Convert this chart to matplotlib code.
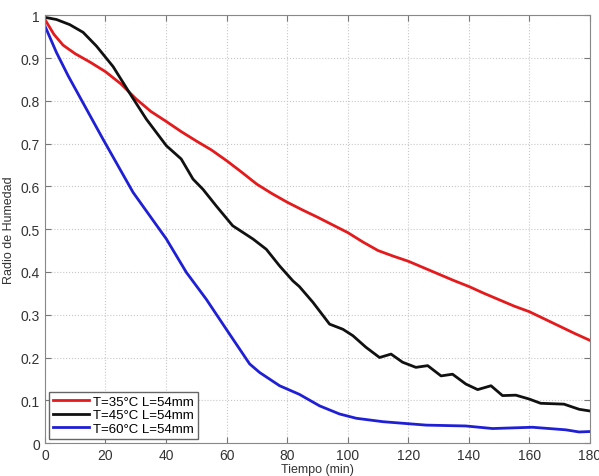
import numpy as np
import matplotlib
matplotlib.use("Agg")
import matplotlib.pyplot as plt

plt.rcParams['font.family'] = ['Liberation Sans', 'DejaVu Sans']

# Red: T=35°C
t35 = [0, 3, 6, 10, 15, 20, 25, 30, 35, 40, 45, 50, 55, 60, 65, 70, 75, 80, 85, 90,
       95, 100, 105, 110, 115, 120, 125, 130, 135, 140, 145, 150, 155, 160, 165, 170, 175, 180]
r35 = [0.99, 0.955, 0.93, 0.91, 0.89, 0.868, 0.84, 0.805, 0.775, 0.752, 0.728, 0.706, 0.685,
       0.66, 0.633, 0.605, 0.583, 0.563, 0.545, 0.528, 0.51, 0.492, 0.47, 0.45, 0.437, 0.425,
       0.41, 0.395, 0.38, 0.366, 0.35, 0.335, 0.32, 0.307, 0.29, 0.273, 0.256, 0.24]

# Black: T=45°C
t45 = [0, 3.8, 8.2, 12.6, 17, 22.5, 28.6, 33.5, 40.1, 45, 48.9, 52.2, 56.6, 62, 68.7, 73.1,
       77.5, 81.9, 84, 88.5, 94, 98.4, 101.7, 106, 110.5, 114.3, 118.1, 122.5, 126.4, 130.8,
       134.6, 139, 142.9, 147.3, 151.1, 155.5, 159.9, 163.7, 171.4, 176.4, 180]
r45 = [0.995, 0.99, 0.978, 0.96, 0.928, 0.88, 0.811, 0.757, 0.695, 0.664, 0.617, 0.593, 0.554,
       0.508, 0.477, 0.453, 0.414, 0.379, 0.366, 0.329, 0.278, 0.266, 0.251, 0.224, 0.2, 0.208,
       0.189, 0.177, 0.181, 0.157, 0.161, 0.138, 0.125, 0.134, 0.111, 0.112, 0.103, 0.093,
       0.091, 0.079, 0.075]

# Blue: T=60°C
t60 = [0, 3.8, 7.7, 19.2, 29.1, 40.1, 46.7, 53.3, 59.9, 67.6, 70.9, 77.5, 84, 90.7, 97.3,
       102.8, 111.6, 125.9, 139, 147.8, 161, 172, 176.4, 180]
r60 = [0.975, 0.913, 0.858, 0.71, 0.586, 0.477, 0.399, 0.336, 0.266, 0.185, 0.165, 0.134,
       0.114, 0.087, 0.068, 0.058, 0.05, 0.042, 0.04, 0.034, 0.037, 0.031, 0.026, 0.027]

labels = ['T=35°C L=54mm', 'T=45°C L=54mm', 'T=60°C L=54mm']
colors = ['#e41a1c', '#111111', '#1f1fd6']

fig = plt.figure(figsize=(5.99, 4.77), dpi=100)
ax = fig.add_axes([0.075, 0.069, 0.910, 0.897])

ax.plot(t35, r35, color=colors[0], lw=2.0, label=labels[0])
ax.plot(t45, r45, color=colors[1], lw=2.0, label=labels[1])
ax.plot(t60, r60, color=colors[2], lw=2.0, label=labels[2])

ax.set_xlim(0, 180)
ax.set_ylim(0, 1)
ax.set_xticks(np.arange(0, 181, 20))
ax.set_yticks(np.arange(0, 1.01, 0.1))
ax.set_yticklabels(['0', '0.1', '0.2', '0.3', '0.4', '0.5', '0.6', '0.7', '0.8', '0.9', '1'])

ax.grid(True, linestyle=':', color='#c8c8c8', linewidth=0.8)
ax.tick_params(direction='in', top=True, right=True, length=4, color='#777777',
               labelcolor='#333333', labelsize=10)
for s in ax.spines.values():
    s.set_color('#888888')

ax.set_xlabel('Tiempo (min)', fontsize=9, color='#333333', labelpad=1)
ax.set_ylabel('Radio de Humedad', fontsize=9, color='#333333', labelpad=4)

leg = ax.legend(loc='lower left', bbox_to_anchor=(0.008, 0.01), borderaxespad=0,
                fontsize=9.5, handlelength=2.7, handletextpad=0.3, labelspacing=0.1,
                borderpad=0.3, fancybox=False, framealpha=1)
leg.get_frame().set_edgecolor('#666666')
leg.get_frame().set_linewidth(1.0)

fig.savefig('out.png', dpi=100)
